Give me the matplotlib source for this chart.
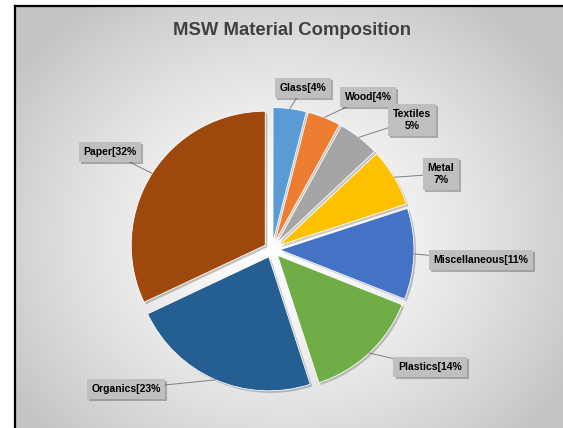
import numpy as np
import matplotlib.pyplot as plt
from matplotlib import patheffects as pe

plt.rcParams['font.family'] = ['Liberation Sans', 'DejaVu Sans']

############ data ############
title = 'MSW Material Composition'
materials = ['Glass', 'Wood', 'Textiles', 'Metal', 'Miscellaneous',
             'Plastics', 'Organics', 'Paper']
shares = [4, 4, 5, 7, 11, 14, 23, 32]
label_texts = ['Glass[4%', 'Wood[4%', 'Textiles\n5%', 'Metal\n7%',
               'Miscellaneous[11%', 'Plastics[14%', 'Organics[23%', 'Paper[32%']
colors = ['#5B9BD5', '#ED7D31', '#A5A5A5', '#FFC000', '#4472C4',
          '#70AD47', '#255E91', '#9E480E']

# label box centres in pixels from the top-left corner (layout only)
label_pos = [(303, 88), (368, 97), (412, 120), (441, 174),
             (481, 260), (430, 367), (126, 389), (110, 152)]

W, H = 563, 428
cx, cy, r = 272, H - 249.5, 134
gap = 8  # explode distance in pixels (pie explode is in data units)

fig = plt.figure(figsize=(W / 100, H / 100), dpi=100)
ax = fig.add_axes([0, 0, 1, 1])

# radial grey background inside the frame
yy, xx = np.mgrid[0:H, 0:W]
dist = np.hypot(xx - 285, (yy - 235) * 1.15)
grey = 1 - 0.23 * np.clip(dist / 330, 0, 1) ** 1.4
img = np.dstack([grey] * 3)
img[:6, :] = 1
img[:, :14] = 1
ax.imshow(img, extent=(0, W, 0, H), origin='upper', interpolation='nearest',
          zorder=0)
ax.plot([14.5, 14.5], [-5, H - 5.5], color='black', lw=1.6, zorder=1)
ax.plot([14.5, W + 5], [H - 5.5, H - 5.5], color='black', lw=1.6, zorder=1)

wedges, _ = ax.pie(shares, colors=colors, startangle=90, counterclock=False,
                   explode=[gap] * len(shares), radius=r, center=(cx, cy),
                   wedgeprops=dict(edgecolor='white', linewidth=0.6))
for w in wedges:
    w.set_path_effects([pe.SimplePatchShadow(offset=(1.5, -1.5), alpha=0.25),
                        pe.Normal()])

ax.text(292, H - 30, title, ha='center', va='center', fontsize=13.3,
        weight='bold', color='#404040')

# labels with leader lines to the wedge edge
start = 0.0
for val, txt, (lx, ly) in zip(shares, label_texts, label_pos):
    mid = np.deg2rad((start + val / 2) / sum(shares) * 360)
    start += val
    ex = cx + (r + gap) * np.sin(mid)
    ey = cy + (r + gap) * np.cos(mid)
    t = ax.annotate(txt, xy=(ex, ey), xytext=(lx, H - ly),
                    ha='center', va='center', fontsize=7.5, weight='bold',
                    color='black', linespacing=1.3,
                    bbox=dict(boxstyle='square,pad=0.45', fc='#BFBFBF', ec='none'),
                    arrowprops=dict(arrowstyle='-', color='#7F7F7F', lw=0.7,
                                    shrinkA=0, shrinkB=0))
    t.get_bbox_patch().set_path_effects([
        pe.SimplePatchShadow(offset=(1.5, -1.5), alpha=0.35), pe.Normal()])

ax.set_xlim(0, W)
ax.set_ylim(0, H)
ax.axis('off')

plt.savefig('out.png', dpi=100)
